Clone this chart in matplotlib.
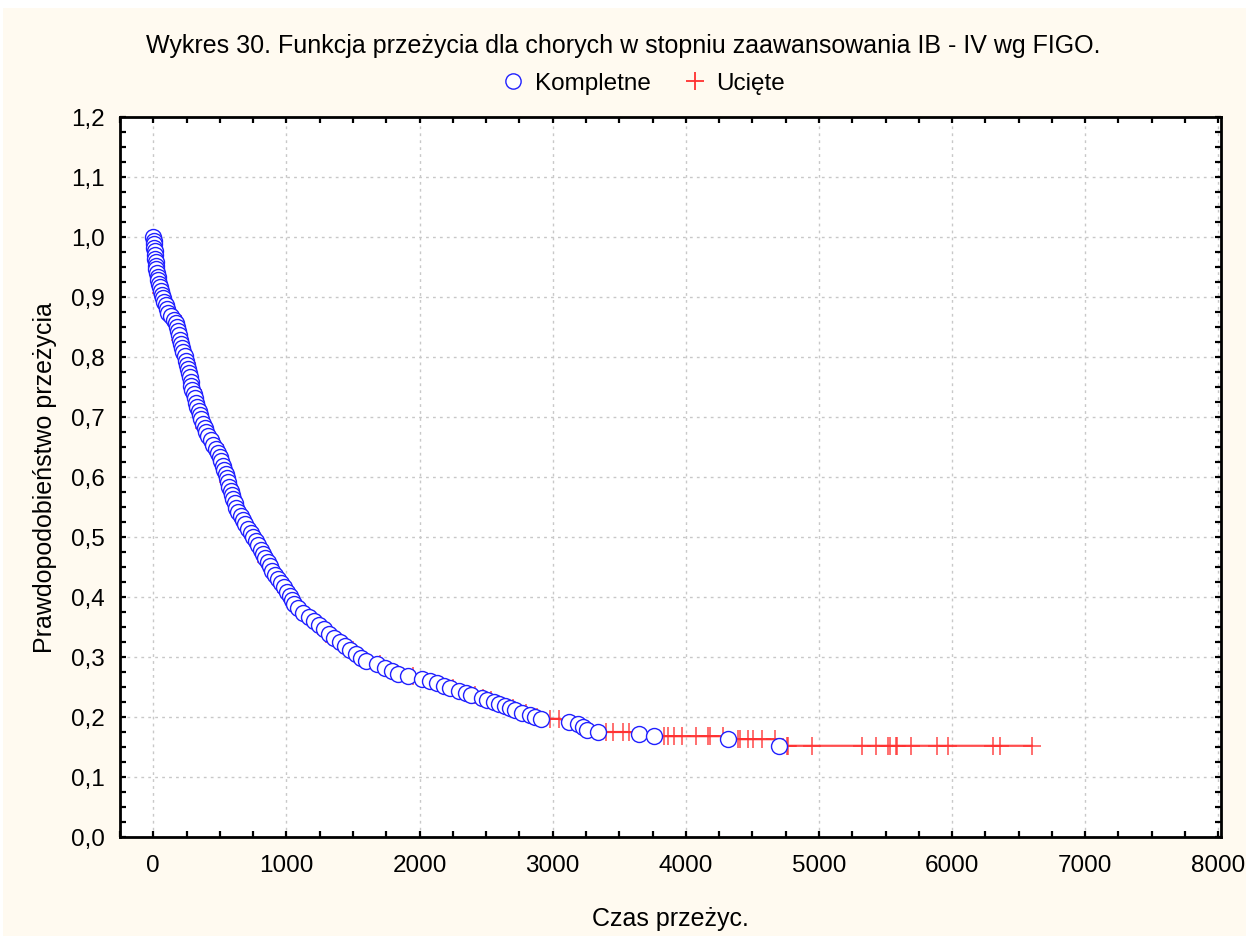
import numpy as np
import matplotlib
matplotlib.use("Agg")
import matplotlib.pyplot as plt
from matplotlib.lines import Line2D
from matplotlib.patches import Rectangle

plt.rcParams["font.family"] = ["Liberation Sans", "DejaVu Sans"]

# complete (event) observations: time, survival probability
complete_t = [
    0, 2, 4, 6, 10, 13, 16, 18, 20, 23, 28, 32, 37, 42, 48, 56, 64, 74, 84, 94,
    104, 114, 132, 158, 170, 178, 186, 194, 203, 210, 218, 226, 236, 245, 254, 262,
    268, 274, 280, 286, 294, 303, 312, 322, 332, 341, 350, 360, 372, 385, 398, 412,
    430, 450, 470, 488, 500, 512, 522, 533, 543, 552, 561, 571, 581, 590, 600, 612,
    625, 640, 660, 676, 692, 712, 732, 752, 770, 790, 808, 826, 840, 858, 876, 894,
    912, 935, 960, 985, 1005, 1025, 1040, 1058, 1085, 1125, 1170, 1210, 1248, 1280,
    1320, 1360, 1400, 1440, 1475, 1520, 1560, 1600, 1680, 1740, 1790, 1840, 1910,
    2020, 2080, 2130, 2180, 2225, 2300, 2350, 2390, 2470, 2510, 2560, 2600, 2640,
    2680, 2720, 2770, 2830, 2870, 2910, 3120, 3190, 3230, 3260, 3340, 3650, 3760,
    4315, 4700,
]
complete_s = [
    1.000, 0.994, 0.988, 0.982, 0.976, 0.970, 0.964, 0.958, 0.952, 0.946, 0.940,
    0.934, 0.928, 0.922, 0.916, 0.910, 0.904, 0.898, 0.892, 0.886, 0.880, 0.874,
    0.868, 0.862, 0.856, 0.850, 0.843, 0.836, 0.829, 0.822, 0.815, 0.808, 0.801,
    0.794, 0.787, 0.780, 0.773, 0.766, 0.759, 0.752, 0.745, 0.738, 0.731, 0.724,
    0.717, 0.710, 0.703, 0.696, 0.689, 0.682, 0.675, 0.668, 0.661, 0.654, 0.647,
    0.640, 0.633, 0.626, 0.619, 0.612, 0.605, 0.598, 0.591, 0.584, 0.577, 0.570,
    0.563, 0.556, 0.549, 0.542, 0.535, 0.528, 0.521, 0.514, 0.507, 0.500, 0.493,
    0.486, 0.479, 0.472, 0.465, 0.458, 0.451, 0.444, 0.437, 0.430, 0.423, 0.416,
    0.409, 0.402, 0.395, 0.388, 0.381, 0.374, 0.367, 0.360, 0.353, 0.346, 0.339,
    0.332, 0.325, 0.318, 0.311, 0.305, 0.299, 0.293, 0.288, 0.282, 0.277, 0.272,
    0.268, 0.264, 0.260, 0.256, 0.252, 0.248, 0.244, 0.240, 0.236, 0.232, 0.228,
    0.225, 0.221, 0.218, 0.215, 0.211, 0.207, 0.203, 0.200, 0.197, 0.192, 0.188,
    0.184, 0.179, 0.175, 0.172, 0.168, 0.163, 0.152,
]

# censored observations: time, survival probability
censored_t = [
    60, 150, 200, 250, 300, 380, 460, 560, 650, 720, 850, 1000, 1100, 1300, 1500,
    1700, 1950, 2250, 2420, 2480, 2540, 2700, 2800, 2880,
    2980, 3045,
    3400, 3450, 3525, 3570,
    3835, 3863, 3910, 3975, 4073, 4163, 4185, 4283,
    4395, 4410, 4470, 4508, 4575, 4673,
    4763, 4770, 4950, 5325, 5430, 5515, 5530, 5580, 5590, 5695, 5890, 5970,
    6310, 6360, 6600,
]
censored_s = [
    0.907, 0.868, 0.829, 0.790, 0.745, 0.682, 0.654, 0.591, 0.535, 0.514, 0.458,
    0.409, 0.381, 0.339, 0.311, 0.288, 0.268, 0.248, 0.236, 0.232, 0.228, 0.215,
    0.207, 0.200,
    0.197, 0.197,
    0.175, 0.175, 0.175, 0.175,
    0.168, 0.168, 0.168, 0.168, 0.168, 0.168, 0.168, 0.168,
    0.163, 0.163, 0.163, 0.163, 0.163, 0.163,
    0.152, 0.152, 0.152, 0.152, 0.152, 0.152, 0.152, 0.152, 0.152, 0.152, 0.152,
    0.152, 0.152, 0.152, 0.152,
]

x_ticks = [0, 1000, 2000, 3000, 4000, 5000, 6000, 7000, 8000]
y_ticks = [0.0, 0.1, 0.2, 0.3, 0.4, 0.5, 0.6, 0.7, 0.8, 0.9, 1.0, 1.1, 1.2]
y_ticklabels = ["0,0", "0,1", "0,2", "0,3", "0,4", "0,5", "0,6", "0,7",
                "0,8", "0,9", "1,0", "1,1", "1,2"]

title = "Wykres 30. Funkcja przeżycia dla chorych w stopniu zaawansowania IB - IV wg FIGO."

BG = "#FFFAF0"
BLUE = "#2020FF"
RED = "#FF3030"

fig = plt.figure(figsize=(12.46, 9.37), dpi=100)
fig.patch.set_facecolor("white")
fig.patches.append(Rectangle((3 / 1246, 0), 1, 1 - 9 / 937, transform=fig.transFigure,
                             facecolor=BG, edgecolor="none", zorder=-10))

ax = fig.add_axes([120 / 1246, 1 - 838 / 937, (1221 - 120) / 1246, (838 - 118) / 937])
ax.set_facecolor("white")

ct = np.array(censored_t)
cs = np.array(censored_s)
tail = ct >= 2950
# connecting line through the censored tail
ax.plot(ct[tail], cs[tail], color=RED, lw=1.6, alpha=0.85, zorder=2)
ax.plot(ct, cs, linestyle="none", marker="+", markersize=13, markeredgewidth=1.3,
        color=RED, alpha=0.75, zorder=2)
ax.plot(complete_t, complete_s, linestyle="none", marker="o", markersize=11.5,
        markerfacecolor="white", markeredgecolor=BLUE, markeredgewidth=1.0, zorder=3)

ax.set_xlim(-240, 8020)
ax.set_ylim(0, 1.2)
ax.set_xticks(x_ticks)
ax.set_xticklabels([str(v) for v in x_ticks])
ax.set_yticks(y_ticks)
ax.set_yticklabels(y_ticklabels)
ax.set_xticks(np.arange(-250, 8001, 250), minor=True)
ax.set_yticks(np.arange(0, 1.201, 0.025), minor=True)

ax.grid(True, which="major", color="#C8C8C8", linestyle=(0, (2, 3)), linewidth=1.0, zorder=0)
ax.tick_params(which="both", direction="in", top=True, right=True, length=4,
               width=1.6, color="black")
ax.tick_params(which="major", labelsize=17.5, pad=12)
ax.tick_params(axis="y", which="major", pad=11)
for sp in ax.spines.values():
    sp.set_linewidth(2.0)

ax.set_xlabel("Czas przeżyc.", fontsize=18, labelpad=22)
ax.set_ylabel("Prawdopodobieństwo przeżycia", fontsize=18, labelpad=10)

fig.text(0.5, 1 - 46 / 937, title, ha="center", va="center", fontsize=18)

handles = [
    Line2D([], [], linestyle="none", marker="o", markersize=11, markerfacecolor="white",
           markeredgecolor=BLUE, markeredgewidth=1.0, label="Kompletne"),
    Line2D([], [], linestyle="none", marker="+", markersize=13, markeredgewidth=1.3,
           color=RED, label="Ucięte"),
]
fig.legend(handles=handles, loc="center", bbox_to_anchor=(642 / 1246, 1 - 84 / 937),
           ncol=2, frameon=False, fontsize=17.5, handletextpad=0.3, columnspacing=1.2,
           handlelength=1.2)

fig.savefig("out.png", dpi=100, facecolor=fig.get_facecolor())
